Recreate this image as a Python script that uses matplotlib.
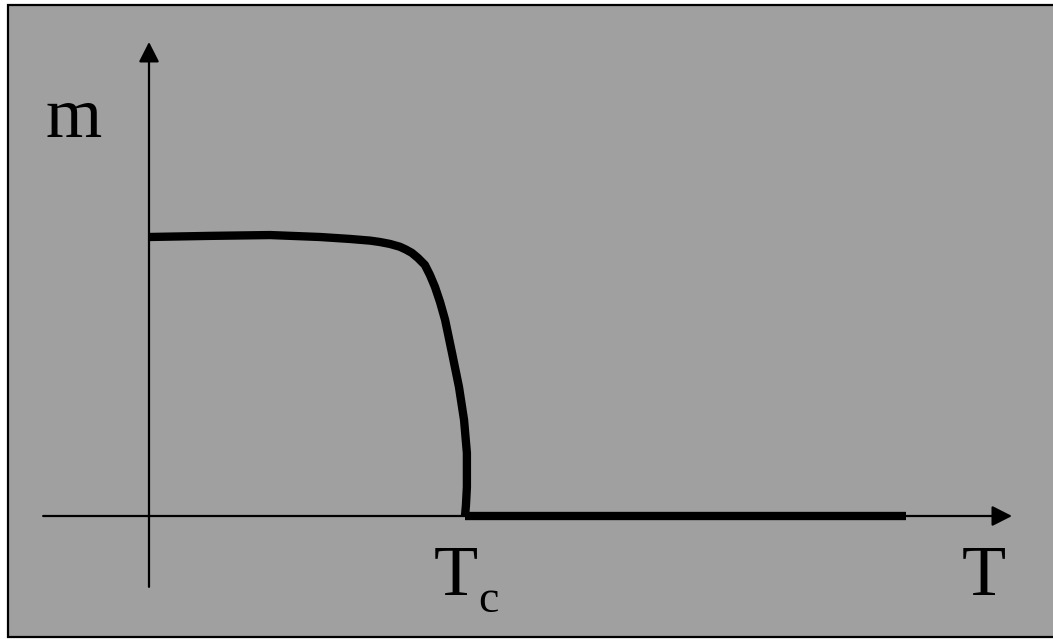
import matplotlib
matplotlib.use("Agg")
import matplotlib.pyplot as plt
from matplotlib.patches import Rectangle

# Data (T in units of Tc, m in units of m(0))
T_curve = [0.0, 0.193, 0.383, 0.541, 0.636, 0.700, 0.731, 0.763, 0.794, 0.813,
           0.832, 0.851, 0.873, 0.889, 0.905, 0.921, 0.937, 0.959, 0.981,
           0.997, 1.006, 1.006, 1.003, 1.0]
m_curve = [1.0, 1.004, 1.007, 1.0, 0.993, 0.987, 0.982, 0.975, 0.965, 0.955,
           0.943, 0.925, 0.900, 0.864, 0.821, 0.767, 0.703, 0.584, 0.462,
           0.344, 0.226, 0.104, 0.039, 0.0]
T_flat = [1.0, 2.396]
m_flat = [0.0, 0.0]

W, H = 1053, 639
fig = plt.figure(figsize=(W / 100, H / 100), dpi=100, facecolor="white")

# framed gray panel
fig.patches.append(Rectangle((8 / W, 2 / H), 1.2, (637 - 5) / H,
                             transform=fig.transFigure, facecolor="#a0a0a0",
                             edgecolor="black", lw=1.6, zorder=-5))

ax = fig.add_axes([0, 0, 1, 1])
ax.set_zorder(5)
ax.patch.set_alpha(0)
ox, oy, sx, sy = 149, 516, 316, 279
ax.set_xlim((0 - ox) / sx, (W - ox) / sx)
ax.set_ylim(-(H - oy) / sy, oy / sy)
ax.axis("off")

arrow = dict(arrowstyle="-|>,head_length=0.61,head_width=0.31", lw=1.6,
             color="black", mutation_scale=20, shrinkA=0, shrinkB=0)
ax.annotate("", xy=(0, 1.699), xytext=(0, -0.254), arrowprops=arrow)
ax.annotate("", xy=(2.731, 0), xytext=(-0.335, 0), arrowprops=arrow)

ax.plot(T_curve, m_curve, color="black", lw=6, solid_capstyle="butt",
        solid_joinstyle="round")
ax.plot(T_flat, m_flat, color="black", lw=6, solid_capstyle="butt")

font = dict(family="Liberation Serif", color="black")
ax.text(-0.237, 1.358, "m", fontsize=52, ha="center", va="baseline", **font)
ax.text(2.642, -0.283, "T", fontsize=52, ha="center", va="baseline", **font)
ax.text(0.9715, -0.283, "T", fontsize=52, ha="center", va="baseline", **font)
ax.text(1.041, -0.344, "c", fontsize=33, ha="left", va="baseline", **font)

fig.savefig("out.png", dpi=100, facecolor="white")
